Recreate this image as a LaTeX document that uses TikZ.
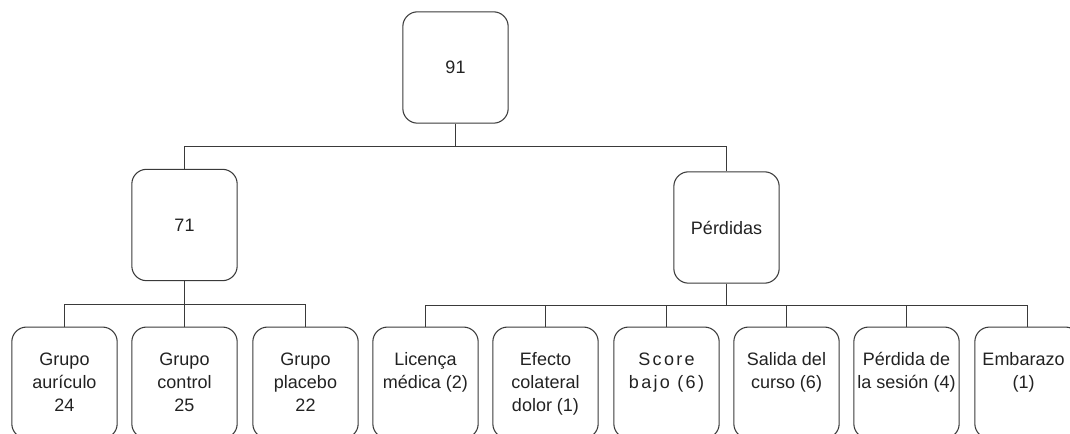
\documentclass[tikz,border=0pt]{standalone}
\usepackage{fontspec}
\setmainfont{Liberation Sans}
\usetikzlibrary{calc}
\definecolor{linec}{HTML}{3A3A3A}
\definecolor{textc}{HTML}{222222}
\begin{document}
\begin{tikzpicture}[x=0.75pt,y=-0.75pt,
  box/.style={draw=linec, line width=0.8pt, rounded corners=11pt, minimum width=79pt, minimum height=83.5pt, inner sep=0pt},
  lbl/.style={text=textc, font=\fontsize{13.5}{17.1}\selectfont, align=center, inner sep=0pt},
  spaced/.style={font=\fontsize{13.5}{17.1}\selectfont\addfontfeatures{LetterSpace=13}},
  conn/.style={draw=linec, line width=0.8pt}]
\useasboundingbox (0,0) rectangle (1070,434);
\clip (0,0) rectangle (1070,434);
% top level
\node[box, lbl] (top) at (455.5,67.5) {91};
% middle level
\node[box, lbl] (m71) at (184.5,225) {71};
\node[box, lbl] (perd) at (726.5,227.5) {Pérdidas};
% bottom level boxes
\node[box] (g1) at (64.5,382.75) {};
\node[box] (g2) at (184.5,382.75) {};
\node[box] (g3) at (305.5,382.75) {};
\node[box] (l1) at (425.5,382.75) {};
\node[box] (l2) at (545.5,382.75) {};
\node[box] (l3) at (666.5,382.75) {};
\node[box] (l4) at (786.5,382.75) {};
\node[box] (l5) at (906.5,382.75) {};
\node[box] (l6) at (1027.5,382.75) {};
% bottom labels
\node[lbl, anchor=north] (tg1) at ($(g1.north)+(0,23)$) {\strut Grupo\\aurículo\\24};
\node[lbl, anchor=north] (tg2) at ($(g2.north)+(0,23)$) {\strut Grupo\\control\\25};
\node[lbl, anchor=north] (tg3) at ($(g3.north)+(0,23)$) {\strut Grupo\\placebo\\22};
\node[lbl, anchor=north] (tl1) at ($(l1.north)+(0,23)$) {\strut Licença\\médica (2)};
\node[lbl, anchor=north] (tl2) at ($(l2.north)+(0,23)$) {\strut Efecto\\colateral\\dolor (1)};
\node[lbl, spaced, anchor=north] (tl3) at ($(l3.north)+(0,23)$) {\strut Score\\bajo (6)};
\node[lbl, anchor=north] (tl4) at ($(l4.north)+(0,23)$) {\strut Salida del\\curso (6)};
\node[lbl, anchor=north] (tl5) at ($(l5.north)+(0,23)$) {\strut Pérdida de\\la sesión (4)};
\node[lbl, anchor=north] (tl6) at ($(l6.north)+(-4,23)$) {\strut Embarazo\\(1)};
% bus coordinates
\coordinate (j1) at (455.5,146.5);
\coordinate (j2) at (184.5,304.5);
\coordinate (j3) at (726.5,305.5);
% connectors top
\draw[conn] (top.south) -- (j1);
\draw[conn] (m71.north) -- (m71.north |- j1) -- (perd.north |- j1) -- (perd.north);
% connectors left group
\draw[conn] (m71.south) -- (j2);
\draw[conn] (g1.north) -- (g1.north |- j2) -- (g3.north |- j2) -- (g3.north);
\draw[conn] (g2.north) -- (g2.north |- j2);
% connectors right group
\draw[conn] (perd.south) -- (j3);
\draw[conn] (l1.north) -- (l1.north |- j3) -- (l6.north |- j3) -- (l6.north);
\draw[conn] (l2.north) -- (l2.north |- j3);
\draw[conn] (l3.north) -- (l3.north |- j3);
\draw[conn] (l4.north) -- (l4.north |- j3);
\draw[conn] (l5.north) -- (l5.north |- j3);
\end{tikzpicture}
\end{document}
